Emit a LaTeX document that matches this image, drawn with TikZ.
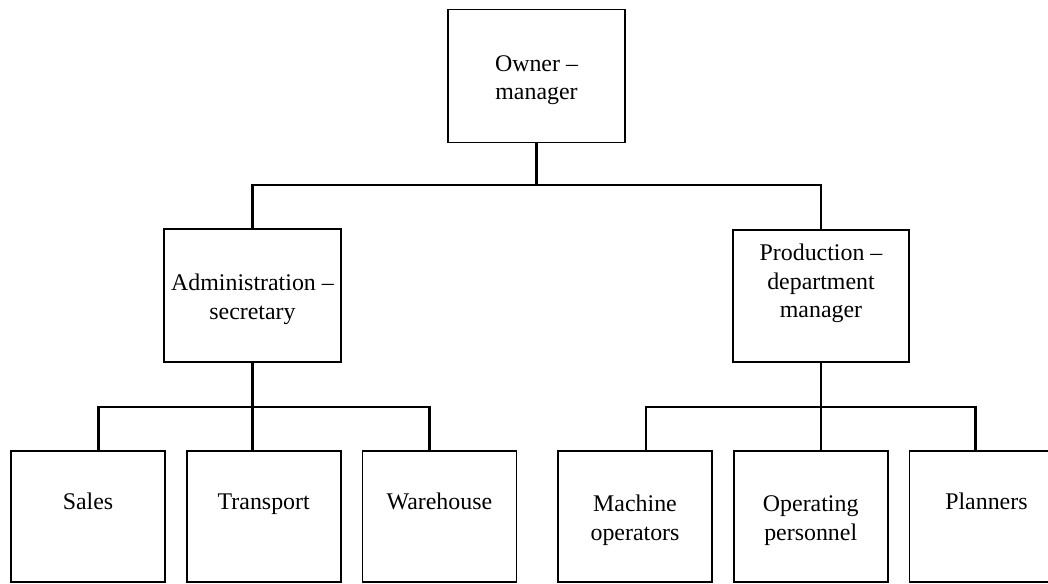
\documentclass[tikz,border=0pt]{standalone}
\usepackage{fontspec}
\setmainfont{Liberation Serif}
\usetikzlibrary{positioning}

\newcommand{\boxtop}{\rule{0pt}{13.6pt}}

\begin{document}
\begin{tikzpicture}[x=0.02cm, y=-0.02cm,
        box/.style={draw, rectangle, line width=1pt, inner sep=0, align=center,
            font=\fontsize{13.6}{16.2}\selectfont},
        head/.style={box, minimum width=3.54cm, minimum height=2.66cm},
        unit/.style={box, minimum width=3.08cm, minimum height=2.62cm},
        link/.style={line width=1.2pt},
        node distance=0.4cm]
    \useasboundingbox (0,0) rectangle (1048,583);

    \node[head] (owner) at (536.5,76) {\boxtop Owner --\\manager};
    \node[head] (admin) at (252.5,295.5) {\boxtop Administration --\\secretary};
    \node[head, minimum width=3.52cm, minimum height=2.64cm] (prod) at (821,296)
        {\boxtop Production --\\department\\manager\\\strut};

    \node[unit] (sales) at (88,516.5) {\boxtop Sales\\\strut};
    \node[unit] (trans) [right=of sales] {\boxtop Transport\\\strut};
    \node[unit] (ware) [right=of trans] {\boxtop Warehouse\\\strut};
    \node[unit] (mach) at (635,516.5) {\boxtop Machine\\operators};
    \node[unit] (oper) [right=of mach] {\boxtop Operating\\personnel};
    \node[unit] (plan) [right=of oper] {\boxtop Planners\\\strut};

    \draw[link] (owner.south) -- ++(0,42) coordinate (own-bar);
    \draw[link] (admin.north) |- (own-bar) -| (prod.north);

    \draw[link] (admin.south) -- ++(0,44) coordinate (adm-bar);
    \draw[link] ([xshift=0.21cm]sales.north) |- (adm-bar) -| ([xshift=-0.2cm]ware.north);
    \draw[link] (adm-bar) -- (adm-bar |- trans.north);

    \draw[link] (prod.south) -- ++(0,44) coordinate (prd-bar);
    \draw[link] ([xshift=0.22cm]mach.north) |- (prd-bar) -| ([xshift=-0.22cm]plan.north);
    \draw[link] (prd-bar) -- (prd-bar |- oper.north);
\end{tikzpicture}
\end{document}
